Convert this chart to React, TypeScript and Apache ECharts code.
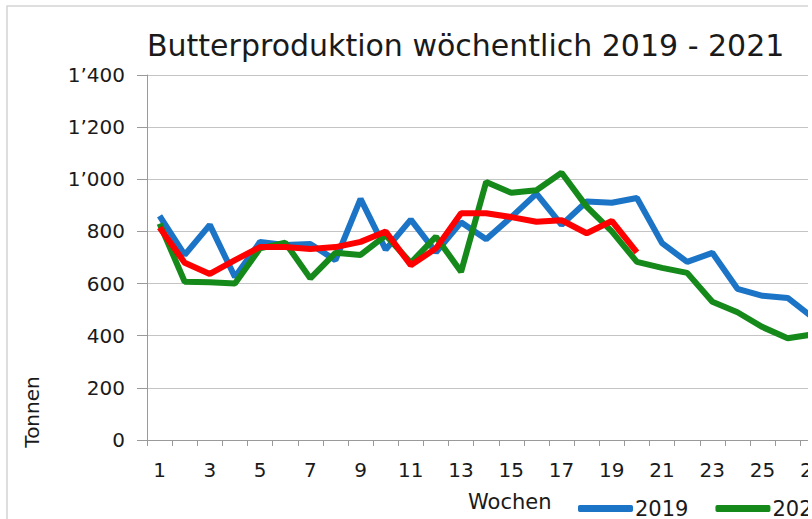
import React, { useEffect, useRef } from "react";
import * as echarts from "echarts";

const weeks = Array.from({ length: 28 }, (_, i) => String(i + 1));
const series2019 = [860, 710, 825, 625, 760, 748, 752, 690, 925, 730, 845, 720, 835, 770, 855, 945, 825, 915, 910, 928, 755, 683, 718, 580, 553, 545, 470];
const series2020 = [830, 607, 605, 600, 735, 757, 620, 718, 710, 785, 680, 780, 645, 990, 948, 958, 1025, 895, 800, 683, 660, 641, 530, 490, 433, 390, 405];
const series2021 = [815, 680, 637, 690, 740, 740, 733, 740, 760, 800, 670, 735, 870, 870, 855, 837, 843, 793, 840, 720];
const yTicks = [0, 200, 400, 600, 800, 1000, 1200, 1400];

const fmt = (v: number) => {
  if (v >= 1000) {
    const t = Math.floor(v / 1000);
    const r = String(v % 1000).padStart(3, "0");
    return t + "\u2019" + r;
  }
  return String(v);
};

const FONT = "DejaVu Sans";

export default function App() {
  const ref = useRef<HTMLDivElement>(null);
  useEffect(() => {
    if (!ref.current) return;
    const chart = echarts.init(ref.current, undefined, { renderer: "svg" });
    chart.setOption({
      animation: false,
      backgroundColor: "#ffffff",
      title: {
        text: "Butterproduktion wöchentlich 2019 - 2021",
        left: 142,
        top: 25,
        textStyle: { fontFamily: FONT, fontSize: 30, fontWeight: "normal", color: "#1a1a1a" },
      },
      grid: { left: 147, top: 75, width: 703.5, height: 365, containLabel: false },
      legend: {
        left: 573,
        top: 493,
        icon: "roundRect",
        itemWidth: 55,
        itemHeight: 7,
        itemGap: 27,
        textStyle: { fontFamily: FONT, fontSize: 21, color: "#1a1a1a", padding: [0, 0, 0, -3] },
        data: ["2019", "2020", "2021"],
      },
      xAxis: {
        type: "category",
        data: weeks,
        boundaryGap: true,
        name: "Wochen",
        nameLocation: "middle",
        nameGap: 51,
        nameTextStyle: { fontFamily: FONT, fontSize: 21, color: "#1a1a1a", padding: [0, 0, 0, 22] },
        axisLine: { show: true, lineStyle: { color: "#9a9a9a", width: 1 } },
        axisTick: { show: true, interval: 0, length: 6, lineStyle: { color: "#9a9a9a" } },
        axisLabel: { interval: 1, margin: 20, fontFamily: FONT, fontSize: 20, color: "#1a1a1a" },
        splitLine: { show: false },
      },
      yAxis: {
        type: "value",
        min: 0,
        max: 1400,
        interval: 200,
        axisLine: { show: true, lineStyle: { color: "#9a9a9a", width: 1 } },
        axisTick: { show: true, length: 10, inside: false, lineStyle: { color: "#9a9a9a" } },
        axisLabel: {
          margin: 22,
          fontFamily: FONT,
          fontSize: 20,
          color: "#1a1a1a",
          formatter: (v: number) => (yTicks.includes(v) ? fmt(v) : ""),
        },
        splitLine: { show: true, lineStyle: { color: "#c4c4c4", width: 1 } },
      },
      graphic: [
        {
          type: "rect",
          shape: { x: 7, y: 6, width: 1200, height: 1000 },
          style: { fill: "none", stroke: "#d4d4d4", lineWidth: 1.5 },
          silent: true,
          z: -1,
        },
        {
          type: "text",
          x: 32,
          y: 412,
          rotation: Math.PI / 2,
          style: {
            text: "Tonnen",
            fontFamily: FONT,
            fontSize: 20,
            fill: "#1a1a1a",
            align: "center",
            verticalAlign: "middle",
          },
        },
      ],
      series: [
        {
          name: "2019",
          type: "line",
          data: series2019,
          symbol: "none",
          lineStyle: { width: 6, color: "#1c74c6" },
          itemStyle: { color: "#1c74c6" },
          z: 2,
        },
        {
          name: "2020",
          type: "line",
          data: series2020,
          symbol: "none",
          lineStyle: { width: 6, color: "#15891a" },
          itemStyle: { color: "#15891a" },
          z: 3,
        },
        {
          name: "2021",
          type: "line",
          data: series2021,
          symbol: "none",
          lineStyle: { width: 6, color: "#ff0000" },
          itemStyle: { color: "#ff0000" },
          z: 4,
        },
      ],
    });
    return () => chart.dispose();
  }, []);
  return (
    <div style={{ position: "fixed", left: 0, top: 0, width: 808, height: 519, overflow: "hidden", background: "#fff" }}>
      <div ref={ref} style={{ width: 900, height: 519 }} />
    </div>
  );
}
